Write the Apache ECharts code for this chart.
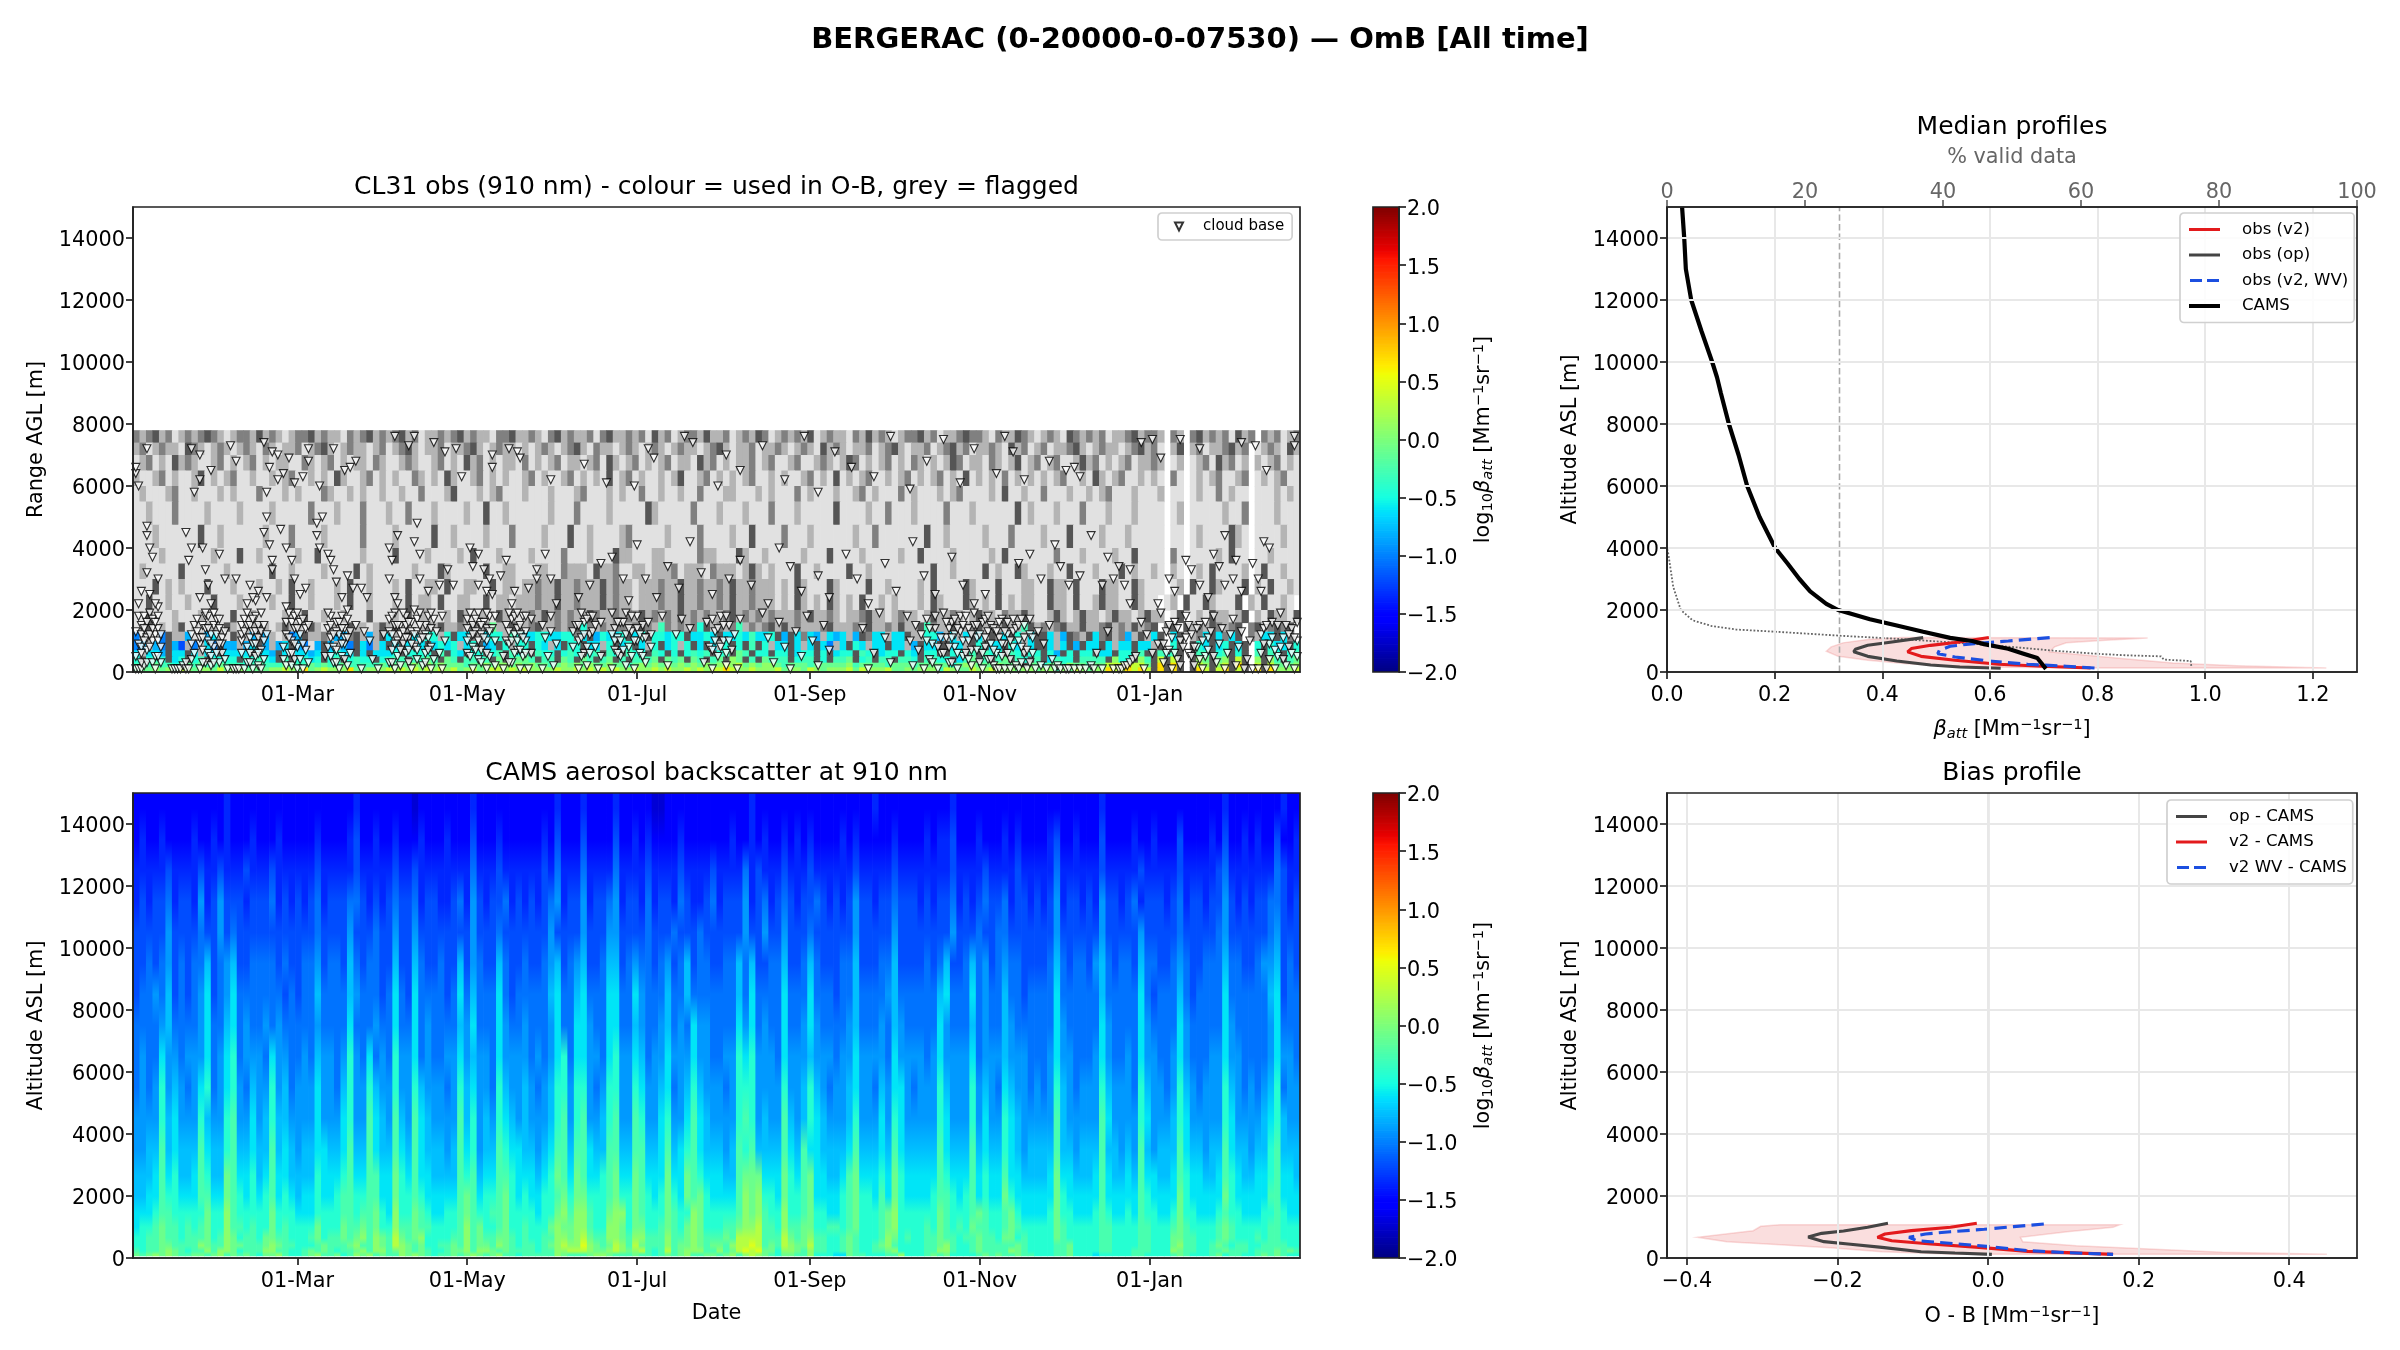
<!DOCTYPE html>
<html><head><meta charset="utf-8">
<script src="https://cdn.jsdelivr.net/npm/echarts@6/dist/echarts.min.js"></script>
<style>html,body{margin:0;padding:0;background:#fff}#c{width:2400px;height:1350px}</style></head>
<body><div id="c"></div>
<script>
// ---------- categories / ticks ----------
const altTicks=[0,2000,4000,6000,8000,10000,12000,14000];
const dateTickDays=[59,120,181,243,304,365];
const dateTickLabels=['01-Mar','01-May','01-Jul','01-Sep','01-Nov','01-Jan'];
const betaTicks=[0,0.2,0.4,0.6,0.8,1.0,1.2];
const biasTicks=[-0.4,-0.2,0,0.2,0.4];
const cbarTicks=[-2,-1.5,-1,-0.5,0,0.5,1,1.5,2];
const validTicks=[0,20,40,60,80,100];
// ---------- CAMS curtain (rows top to bottom, one char per time column) ----------
const camsEdges=[60,150,300,500,800,1200,1700,2300,3000,4000,5000,6000,7000,8000,9000,10000,11000,12000,13000,14000,15000];
const camsCodeValues={0:-1.7,1:-1.5,2:-1.35,3:-1.2,4:-1.05,5:-0.9,6:-0.75,7:-0.6,8:-0.42,9:-0.25,a:-0.08,b:0.08,c:0.28,d:0.48,e:0.6};
const camsRows=[
"11111111111111211111 11111111111111211111 11101111111121111111 11111211121111211111 00111111111111121111 11111111111111211111 11111121111111111111 11111111121111111111 11111111211111111211",
"12112111121121211121 11211111211112311211 21112111211131112111 11121311131111311212 11112111111121121211 21212111121211111211 11212231112111212111 12311211131111211211 13111121311212113112",
"22222322223223222322 23222222322222322222 32232222222242223222 22232422242222422223 22223222232222423222 32223222222322222322 22222232222322223222 22422222232222232222 23222223422222224322",
"23233423325235333233 34232323423334432323 43342332234253233423 23234523352334523324 23324322342333523423 43233432323533233433 32323342323433423323 23523323253323423332 34233233532323344323",
"33333533334335343333 33333333433335333433 53353333333353334333 33335333353335533334 33343334333333533533 53334333333533333533 33333353334334433333 33533333353333353333 34333334533333345333",
"33434534344634563344 44343344534436434433 63364334336354336433 43345634563346634544 34534634433446463344 63346433344633344633 33434633464534544333 34643443564344364433 45433444644334556343",
"34454634345734574444 44434344644446544434 74374444347464447434 44446744674447744754 44644644444446474444 74447444344644445644 44446744474544644344 44744444464444474344 46434444744444467344",
"44445644445744674544 54544444544447444544 74474544446574447544 54445744775447744654 45645475544447574544 74457544445644454654 44447544464544654444 44754444475444475444 47544444754444457444",
"45447554555745784555 47554454655458547454 85574544557565547555 54545784775547855764 55755575544558785554 75556555455755554755 55457555574555655544 45755444575445475544 57544455755444457554",
"45458565457845785465 58564555755468558655 85586555458675548655 65456885885458855875 56745686555458885555 85568654556755465775 45558655585654765545 45865455586555486554 58654555865454568455",
"55558675558655895575 68665555755578559765 96597655559685658765 65556895895568955985 57855797655558985655 96568765556855575875 55558755585755876555 55965555597555587555 68755555875555678655",
"55669676669766896676 69676566776679669766 97697666569785669877 66567996997669966996 67967897666569896666 97697766667966676976 66669766696766876566 66966566696656596566 69766566976656689666",
"66679786679866a97786 79776666877789779977 a8797766669896779987 77678a97a97789a77a97 77a77a98777669aaa777 a879a776679a77787a87 77779877797877977666 67a77666797667697766 79877667987667789776",
"66779887779977a98787 89787677877899889977 a8898777779a97889a87 877889a8aa8889a88a98 78a87a9a877779bab887 a889a777789a88797a87 77789987897877a87777 77a87777797777798777 7a877777a87777799777",
"77789988888a88b98888 8a888777888899899a87 b88a9877889a98899a88 88788ab9bb988abb8a98 88a988ba888889bab988 b889a887789a8889ab88 8888a98889a9889a8777 78a88777898778798877 8a887778988777889877",
"7889a998989a88b99898 8a898888a888a99a9a88 b99a9988889b9a889a88 9888abaabb988bba8aa8 89a98aba88899abbc998 b99aa889989a8889ab88 8898a9898a99889a9888 88a98888899888899888 9a988889a98888899888",
"8899a998999a89ba8998 aa998889a899a9ab9ba9 ca9ab888899b9a99aa98 98899bbabca99bba9bb9 99b99aba999a9cccc999 ca9ab99889a98889ba89 8899a99899a998aa8988 88a98888899888899888 aa998889a98889899888",
"8899aa9999ba99baa999 aba998889a999ab99ba9 cba9a8899a9b9aa9ba98 9989abcbbdba9acb9ca9 99b9aaba9aa9bccdc9a9 cbaac99889a9889ab988 8899ab9889a99999a988 8899a888899888899888 ab99889a989988999988",
"9899aba9899b9bba8999 bb99889a9a9899ab9bb9 aba9a9889aab9bba9a99 99899bbcccbaabcbabc9 89c9abbb99b9acdcdaa8 bba9b99889a98899ab88 8899bb9889a9999ba988 8899a888899888999888 ba998899a9998999a9a9",
"a9ababa99aa9ab9a9a98 aab9889ab99a89bab9a9 9baba9899a9aba9ab998 99999ba999abba999a99 89a9ab99aa9ab9bcba98 aa99b88877a9988899b8 889a9a88889a9a99a998 8899a888788888998888 9a98889a899889a9a988"
];
// ---------- CL31 curtain (rows top to bottom); letters = flagged grey shades, digits = used values ----------
const obsEdges=[0,150,300,500,700,1000,1300,1600,2000,2500,3000,3500,4000,4750,5500,6000,6500,7000,7400,7800];
const obsCodeValues={0:-1.2,1:-1.0,2:-0.8,3:-0.6,4:-0.45,5:-0.3,6:-0.1,7:0.1,8:0.35,9:0.7};
const obsGreys={l:'#e1e1e1',m:'#b4b4b4',d:'#808080',k:'#555555'};
const obsRows=[
"dmdkmdlmdmdkdmlmddmk mdmlmddkmdmmldmdkmdm dkmdlmmdmdkmdmmlddkm mdmldkmdmmdldkmmdmdl kmdlmddmkmmdlmdmkdlm dmdmklmdmmldmkmdmlmd dkmdlmmdkddmldmmkdml mdmlkdmdmdlmmdkmddm. dm.dkmdmdlkmd.dmdlmd",
"mdlmdmmlkdmlmdmlmdml dmlmmdlmdkmlmdmmlmdl mdkmlmmdlmmdkmlmdmml mlmdmlmdkmldmmlmdmlm dmlmdmmlmdkmlmmdlmmd mlmdmlkmdmlmmdlmdkml mmdlmdkmdlmmdmlkmdlm dlmmdkmlmdmmlmdkmdl. mk.mdlmmdkmd.lmdmlkm",
"lmdlmlkmdmllmdlmlmdl mlmmlldmlmdlmlmmldml lmdmllmdlmlkmdlmlmml dlmlmdlmmlmdlkmlmdlm lmdlmmlkmdlmlmmdlmdl lmdllmdmlmkdlmlmdlml dmlmlmkdlmmldmlmklmd lmdllmkmdlmlmdlmmdm. lm.lmdlkmdlm.mlmdlml",
"mllmdlmllmklmlmdllml lmlmdllmlmlkmllmdlml mlldmlmlkmllmdlmlmll mdlmllmdlmlmlklmdlml lmlmkllmdlmlmlmdllml mllmdlmlklmlmdllmlmd lmlmdlmlklmlmldlmlml mlmdllmlkmlmdllmlml. dl.lmlmdllmd.lmlmdll",
"lmlllmdllmlllmlmllld lllmlmllldmllmlmllml lmlldlllmklllmlmdlll mlllmlllmdlllmlmlldl lmllmlldlllmmlllmlml lldlmlllmllmdlmllldl mlllmlmdllllmlkllmll dlllmllmlmdlllmlllm. ll.lmlldlmll.lllmlml",
"llmllldllllmllllmlll lmllllldlllmllldlllm lldlllmllllmllkllmll llllmllldllllmlllllk mllllldlllmlllmllldl llmlllllkllllmlldlll mlllldlllmllllllklml llmllldlllmlllmllll. lm.lllllmlld.lllmlll",
"lllmllllllkllmllllll mllldllllmllllldllll mlllllkllmllllmllldl lllmlllkllmllllmdlll llmlllldllllmllkllll dlllmllllllmlldlllll llkllmlllllmllldllll mlllkllllmlllmlllll. ll.lmllllkml.llllmll",
"llllmlllllllmlllkllm lllllmllkllllllmllll kllllmllllmlklllmlll lmlllldlllmlllkmmlll mmllllldmmlllkmllmll lllmlllkllllmlllllml lkllllmlllllmlklllll lldlllmllllmllkllll. dl.llllmlkll.llmllll",
"lmlllllkllllllmlllll lkllmllllmllllklmlll lllmlllkmlllllkllmml llmmlldmmmlkmmdllmml mmmdlmmmldmmmlmkmlml llkllmllllkllmllllll lllkllmllllklmllkmll lmllklllmlllklmllml. ml.lmlkllllm.lkllmll",
"lllklmlmlllklllmlllm llmlkllmlllmlkllmlll mlkllmmlkllmmllklmml mmdmmkmmdmmmkmdmmlmm mdmmkmmdmmdmkmmdmmml mlkmlllkmllllkllmlll lmlkllllkmlllklllmml lkmmlklllkmmllkmlll. lm.kllkmlllk.mlkllml",
"llkllmllmlllklllmlll lmllkllmlllmlkllmlll mlklmmlkllmmllklmmlm mmdmmkmmdmmmkmdmmlmm mdmmkmmdmmdmkmmdmmml mlkmlmlkmlmlkllmlmll lmlkmlllkmlmlklmlmml lkmmlkllmkmmllkmll. lm.kllkmlllk.mlkllml",
"llklllmlllmllllkllml lllmllkllmllmlllklll mlklmmllmlkmlmmlkmml mdmkmdmdmmkdmmdmdmkm dmdmkmdmdmmdkmdmdmdm mmdmkmmdmlmmdkmmlmdm mlmkmmdmlmkmmldmmkml lmkmlmkmmlmkmmlmkmm. lk.lmlkmmlmk.mlkmmlk",
"lmklmlmklmlmmlkmlmmk mlmkmmlkmlmmlkmmlmk mkmmlmdmkmmdmkmd6mmk dmdkmmdmdk4dmdmddmdk dm5dmdmd4kmdmd5mdmdk mkmdmmmdkmmmdmkmmdmk mmk5dmmkmmdkmdmkmm5k mdmdkmmkmmdkmdmkmdk. dk.kmdmkdmdk.dkmdkdk",
"1mml1kmm2lm23mlkmm2k 2mlm12kmmdm22dkm2mk 3mlk3m44m4k33dm344m54 33443344d3k24334k34k 44344k3343k33435334k 2k3d32m323m2kd33m33k mm442m3m3k3mkd3k4m3k k3m2kdmk3dkmd2mkm3k. 3k.md3k3d3k.dm33k3d",
"12m21k20m1m31k22m23k 2m23k21l2k2m21k31m3k 3k3m3k3434m34k23k4m4 4k43m3k44k33m4k34k3m 4k34m4k3k3m4k4k5k4m3 3k3m3k31m3k43m33k33m 2k33kk33mk4k33k43m3k k3m3k2k33k3m33k33mk. 4k.k43k34k3k.4k433k4",
"3m332k33k3m33k3333k3 32k3m3323k3433k3k333 4k4444k5k43k44k45k54 5k544k454k45k54k544k 54k4k4545k45k65k44k4 4k344k4k344k54k344k4 3k44kk44k5k544k54k44 k42k4k44k33k44k5kk54 5k.k55k45k4k.5k54k45",
"4k454k34k45k4444k445 43k5k4434k45k4544k45 55k5565k65k5545k6k56 65k55k65k65k56k5k555 6k656k65k56k76k5k655 5k455k4k556k45k55k55 4k5544k356k5k56k54k5 k3544k5555k744k75k8k 8k.k76k67k8k.7k75k56",
"55565545656556555456 55565556565565555565 66676767666566767767 67665676767667665676 76767676767878676776 56665666667566665666 56666646776667666k66 46657665668889886k9k 9k.k87k78k9k.8k86667",
"66676768767768677666 67787696787779667778 78787878786786788787 87777877878787877877 87877878788987787778 67768767778687778667 67775876687787776776 77576876779889898k9k 9k.k98k89k8k.9k97778"
];
// ---------- cloud base (day, altitude in hm) ----------
const cbHigh=[5,72,1,64,2,60,1,66,21,72,24,70,28,65,22,58,24,62,35,73,37,68,47,74,50,71,52,70,49,66,48,58,52,62,54,64,56,69,58,61,61,63,63,72,63,68,67,60,72,72,76,65,78,66,80,68,94,76,99,73,101,76,108,74,112,71,116,72,118,63,129,70,129,66,135,72,138,71,139,69,150,62,162,67,170,61,180,60,185,72,187,69,198,76,201,74,210,60,213,70,218,65,226,73,234,62,241,76,246,58,252,71,258,66,266,63,272,76,279,59,285,68,291,75,297,61,302,72,310,64,313,76,316,71,320,62,329,68,335,65,338,66,340,63,362,74,366,75,369,69,376,75,383,72,398,74,403,73,407,65,417,76,417,73];
const cbMid=[5,47,5,44,6,40,7,37,5,32,9,30,6,25,8,22,19,45,21,40,20,36,25,40,26,33,27,28,24,24,28,22,31,38,33,30,37,30,42,28,43,24,48,50,47,45,49,41,50,36,50,33,45,26,48,24,53,46,55,40,57,36,58,30,60,25,62,27,66,48,66,44,68,50,67,40,70,38,71,36,72,33,73,29,75,24,77,31,79,27,82,27,84,24,92,40,93,36,92,30,94,24,95,44,95,22,102,48,101,42,103,38,103,30,106,26,110,28,113,33,115,28,121,40,122,34,124,38,126,33,124,28,127,26,128,30,129,25,132,31,134,36,137,26,136,22,142,27,145,33,148,38,145,30,150,30,152,22,160,24,164,28,168,35,172,37,176,30,178,23,181,41,184,30,188,24,192,34,196,27,200,42,204,32,208,25,214,30,218,36,222,28,228,22,232,40,236,34,240,26,246,31,250,24,256,38,260,30,264,22,270,35,274,26,280,42,284,31,288,25,294,37,298,28,302,22,306,25,318,35,322,38,326,30,331,41,333,34,336,28,340,31,344,44,348,28,350,37,352,30,354,34,356,28,358,22,358,33,368,22,372,30,374,26,378,36,380,33,383,28,386,24,388,38,390,34,392,28,392,44,395,30,398,26,402,35,404,30,405,26,406,42,408,40,396,36];
const cbLow=[1,1,2,1,3,1,4,2,1,5,2,9,1,13,2,18,3,3,3,8,3,12,3,15,4,18,5,3,5,7,5,11,5,16,6,19,7,17,7,3,7,10,8,12,8,5,8,1,9,10,9,14,9,18,10,8,10,3,10,12,14,1,15,1,16,1,17,1,18,2,19,1,19,3,20,1,21,4,21,9,21,12,22,6,22,15,23,13,23,17,24,1,24,9,24,11,25,7,25,15,26,3,26,14,26,18,27,10,27,18,27,6,28,5,28,12,28,2,29,15,29,8,30,12,30,17,31,3,31,17,31,14,32,6,32,11,32,9,33,4,33,13,34,1,36,1,37,1,38,1,39,6,39,10,39,15,39,12,40,1,40,13,40,17,41,8,41,3,41,19,41,15,42,11,42,6,42,15,43,1,43,9,43,13,44,13,44,5,44,18,45,2,45,11,45,15,46,1,46,7,46,13,47,15,47,4,48,12,54,4,54,8,55,2,55,12,55,16,56,6,56,19,57,2,57,10,57,16,58,14,58,4,58,18,59,8,59,1,60,12,60,16,61,1,61,17,62,7,62,14,63,3,63,15,69,5,70,14,70,8,71,18,71,11,71,15,72,3,72,8,73,16,73,7,73,13,74,1,74,12,75,18,75,5,76,9,76,14,76,11,77,2,77,17,78,6,78,13,80,15,82,1,83,13,85,10,86,4,88,1,90,12,92,3,92,17,92,13,93,7,93,12,94,1,94,19,94,15,95,5,95,10,96,15,96,2,96,12,97,9,97,13,98,6,98,18,98,15,99,3,99,11,100,1,100,16,100,13,101,8,102,4,102,13,102,17,103,10,103,19,104,2,105,6,105,15,105,12,106,11,107,1,107,8,107,14,108,17,108,4,109,13,110,6,111,1,111,18,112,10,120,6,120,17,120,14,121,11,122,1,122,8,122,15,123,13,124,4,124,19,124,16,125,7,125,12,126,16,127,1,127,10,127,14,128,5,128,18,129,14,130,2,130,18,130,10,133,1,133,5,134,15,134,10,135,9,135,13,136,3,136,17,137,18,137,12,138,7,138,14,139,1,139,15,140,5,140,18,141,10,141,13,142,1,143,17,143,6,147,15,147,1,148,11,149,5,150,18,150,13,151,2,152,9,158,8,158,13,159,15,160,1,160,10,161,11,162,6,162,16,163,2,164,18,164,12,165,13,166,8,166,15,167,1,168,16,168,5,172,1,172,19,173,7,173,14,174,11,175,5,175,16,176,16,177,2,177,12,178,8,179,13,180,1,181,18,181,10,182,6,183,11,183,15,184,3,185,16,186,8,186,12,190,18,192,2,195,12,197,17,200,14,205,3,206,16,207,8,208,1,209,13,210,5,211,18,212,10,213,2,214,15,215,7,216,12,217,1,218,17,226,19,228,11,230,3,232,16,234,8,236,1,238,13,240,5,242,18,244,10,246,2,248,15,250,7,262,14,264,1,266,6,268,19,270,11,272,3,278,18,279,10,280,2,281,15,282,7,283,12,284,1,285,17,286,4,287,9,288,14,289,1,290,6,291,19,292,11,293,3,293,14,294,16,295,8,295,12,296,1,297,13,297,18,298,5,298,10,299,18,300,10,300,14,301,2,301,7,302,15,302,19,303,7,303,11,304,12,304,3,305,1,305,16,306,17,306,8,307,4,307,13,308,9,308,15,309,14,309,2,310,1,310,6,311,1,311,11,312,5,312,17,313,1,313,9,314,12,314,16,315,1,315,4,316,8,316,13,317,14,317,2,318,1,318,10,319,3,319,17,320,11,320,6,321,1,322,17,322,12,323,6,324,1,325,13,326,2,327,9,328,1,329,15,330,4,331,1,332,2,333,1,335,1,336,1,338,1,340,1,342,1,344,2,345,1,346,6,348,1,350,13,352,1,354,1,355,1,356,2,357,2,358,3,359,4,360,5,362,16,363,1,364,12,366,6,368,9,369,19,370,3,371,13,372,7,373,1,374,16,375,4,376,10,378,18,379,6,380,12,381,2,382,8,383,15,384,1,385,5,386,11,388,18,389,3,390,9,391,14,392,1,393,6,394,12,395,17,396,2,397,8,398,13,399,1,400,4,401,10,402,1,404,1,405,12,406,14,407,1,408,9,409,16,410,1,411,5,412,19,413,11,414,2,415,8,416,14,417,1,418,5,418,10];
const cbDense=[2,22,3,26,3,6,4,10,4,14,6,12,6,8,7,14,8,16,9,21,9,5,25,11,25,3,26,19,27,14,28,9,29,19,29,3,30,6,31,9,41,22,42,3,43,17,44,9,44,23,45,6,46,19,47,10,55,21,56,11,57,6,58,9,59,14,59,19,60,4,61,9,70,19,71,5,72,12,73,3,74,16,75,9,75,14,76,4,77,11,77,20,93,3,93,18,94,9,95,15,96,7,97,19,98,11,99,7,99,16,100,9,101,12,101,20,102,7,103,15,104,11,105,3,106,18,106,7,107,19,120,10,121,5,121,19,122,12,123,7,123,17,124,10,125,15,125,3,126,11,127,6,127,19,128,13,135,3,135,19,136,10,137,6,138,10,138,19,139,7,139,12,140,11,141,6,141,18,160,15,161,5,161,19,162,12,163,8,163,17,164,6,165,18,172,12,173,10,174,6,174,16,175,10,176,7,177,19,178,14,179,5,179,18,180,10,181,14,182,12,183,5,184,11,208,7,208,17,209,10,210,14,211,8,212,15,213,6,213,18,214,10,285,10,286,14,287,3,288,18,289,8,290,11,291,6,292,16,293,8,294,3,294,11,295,17,296,6,296,14,298,15,299,6,300,4,301,12,303,15,305,6,306,11,307,18,308,4,309,7,310,13,311,16,312,9,313,13,314,6,315,10,316,17,318,15,319,8,320,15,321,7,322,3,323,11,370,9,371,6,372,15,373,11,374,6,375,14,376,2,377,8,378,11,379,15,380,5,381,8,382,14,383,4,384,10,385,16,386,7,387,13,388,5,405,6,406,9,407,15,408,4,409,11,410,7,411,15,412,8,413,4,414,15,415,12,416,6,417,11,418,16];
// ---------- median profiles: [value, altitude] ----------
const camsProfile=[[0.028,15000],[0.032,14000],[0.035,13000],[0.045,12000],[0.064,11000],[0.084,10000],[0.093,9500],[0.1,9000],[0.115,8000],[0.133,7000],[0.149,6000],[0.172,5000],[0.201,4000],[0.224,3500],[0.246,3000],[0.266,2600],[0.296,2200],[0.318,2000],[0.377,1700],[0.427,1500],[0.476,1300],[0.526,1100],[0.567,1000],[0.589,900],[0.634,750],[0.661,600],[0.688,450],[0.695,300],[0.704,100]];
const obsV2=[[0.598,1110],[0.544,970],[0.49,860],[0.454,755],[0.447,650],[0.472,505],[0.535,380],[0.616,250],[0.697,185],[0.787,130]];
const obsOp=[[0.476,1110],[0.418,970],[0.373,860],[0.35,733],[0.347,650],[0.373,505],[0.427,355],[0.49,226],[0.544,160],[0.62,120]];
const obsWv=[[0.711,1110],[0.634,1000],[0.571,916],[0.526,830],[0.506,700],[0.503,590],[0.535,485],[0.598,355],[0.67,250],[0.742,185],[0.795,130]];
const obsBand=[[0.436,1110],[0.373,1045],[0.327,940],[0.305,810],[0.296,670],[0.318,505],[0.373,380],[0.445,270],[0.535,195],[0.625,150],[0.76,130],[1.225,130],[1.058,205],[0.94,290],[0.85,430],[0.76,570],[0.711,650],[0.72,810],[0.742,940],[0.815,1025],[0.893,1100]];
const validPct=[[0,15000],[0,4000],[0.2,3800],[0.9,2750],[2,2000],[3.7,1670],[6.5,1480],[10,1370],[15.7,1300],[25.5,1165],[32.6,1080],[38.2,1000],[45.2,895],[50.9,790],[56.5,680],[62.1,590],[66.4,540],[71.6,505],[72,400],[75.9,355],[76,160]];
const validRef=[[25,0],[25,15000]];
// ---------- bias profiles ----------
const biasOp=[[-0.133,1120],[-0.16,990],[-0.192,870],[-0.221,795],[-0.239,677],[-0.218,527],[-0.186,452],[-0.141,344],[-0.089,204],[-0.044,161],[0.005,118]];
const biasV2=[[-0.015,1120],[-0.05,990],[-0.102,882],[-0.137,774],[-0.147,667],[-0.128,559],[-0.076,452],[-0.012,344],[0.053,215],[0.105,172],[0.166,118]];
const biasWv=[[0.074,1097],[0.034,1011],[-0.005,925],[-0.05,849],[-0.083,774],[-0.105,667],[-0.095,559],[-0.044,462],[0.008,355],[0.053,237],[0.105,172],[0.166,118]];
const biasBand=[[-0.276,1075],[-0.302,1021],[-0.312,882],[-0.386,667],[-0.347,527],[-0.276,430],[-0.205,323],[-0.141,204],[-0.044,118],[0.45,118],[0.311,183],[0.214,290],[0.117,398],[0.046,527],[0.043,667],[0.105,849],[0.166,989],[0.175,1075]];
const zeroLine=[[0,0],[0,15000]];

// ---------- layout and helpers ----------
const FONT='"DejaVu Sans"';
const L={x:133,w:1167},C={x:1373,w:26},R={x:1667,w:690},T={y:207,h:465},B={y:793,h:465};
const SP='#222';
const dayMax=419,nCols=180;
const fmtMinus=(v,d)=>(v<0?'\u2212':'')+Math.abs(v).toFixed(d);
function jet(v){const t=Math.min(1,Math.max(0,(v+2)/4));
 const seg=(p)=>{for(let i=1;i<p.length;i++){if(t<=p[i][0]){const a=p[i-1],b=p[i];return a[1]+(b[1]-a[1])*(t-a[0])/(b[0]-a[0]);}}return p[p.length-1][1];};
 const r=seg([[0,0],[0.35,0],[0.66,1],[0.89,1],[1,0.5]]),g=seg([[0,0],[0.125,0],[0.375,1],[0.64,1],[0.91,0],[1,0]]),b=seg([[0,0.5],[0.11,1],[0.34,1],[0.65,0],[1,0]]);
 return 'rgb('+Math.round(r*255)+','+Math.round(g*255)+','+Math.round(b*255)+')';}
const greyKeys=Object.keys(obsGreys);
function cellColor(code){return code>=100?obsGreys[greyKeys[code-100]]:jet(code);}
function cells(rows,edges,map){const out=[],n=rows.length;const cw=dayMax/nCols;
 rows.forEach((raw,ri)=>{const s=raw.replace(/ /g,'');const lo=edges[n-1-ri],hi=edges[n-ri];
  for(let i=0;i<s.length;i++){const ch=s[i];if(ch==='.')continue;const g=greyKeys.indexOf(ch);
   out.push([i*cw,(i+1)*cw,lo,hi,g>=0?100+g:map[ch]]);}});return out;}
function rectItem(params,api){const a=api.coord([api.value(0),api.value(2)]),b=api.coord([api.value(1),api.value(3)]);
 return {type:'rect',shape:{x:a[0],y:b[1],width:b[0]-a[0]+0.7,height:a[1]-b[1]+0.7},style:{fill:cellColor(api.value(4))}};}
// CAMS columns: one tall rect per time step, shaded through that column's typed level values
const camsStrings=camsRows.map(r=>r.replace(/ /g,''));
const camsTop=camsEdges[camsEdges.length-1],camsBot=camsEdges[0];
function camsColumn(i){const stops=[];camsStrings.forEach((s,ri)=>{const k=camsEdges.length-2-ri;const ch=s[i]||s[s.length-1];
  const mid=(camsEdges[k]+camsEdges[k+1])/2;stops.push({offset:(camsTop-mid)/(camsTop-camsBot),color:jet(camsCodeValues[ch])});});
 return stops;}
const camsCols=[];for(let i=0;i<nCols;i++)camsCols.push([i*dayMax/nCols,(i+1)*dayMax/nCols,camsBot,camsTop,i]);
function camsItem(params,api){const a=api.coord([api.value(0),api.value(2)]),b=api.coord([api.value(1),api.value(3)]);
 return {type:'rect',shape:{x:a[0],y:b[1],width:b[0]-a[0]+0.7,height:a[1]-b[1]},style:{fill:new echarts.graphic.LinearGradient(0,0,0,1,camsColumn(api.value(4)))}};}
function bandSeries(pts,xi,yi){return {type:'custom',xAxisIndex:xi,yAxisIndex:yi,z:2,silent:true,data:pts,encode:{x:0,y:1},
 renderItem:(p,api)=>p.dataIndex===0?{type:'polygon',shape:{points:pts.map(q=>api.coord(q))},style:{fill:'rgba(225,60,60,0.17)',stroke:'rgba(225,60,60,0.18)',lineWidth:1.5}}:null};}
function pairs(a){const o=[];for(let i=0;i<a.length;i+=2)o.push([a[i],a[i+1]*100]);return o;}
const line=SP;
const lbl={fontFamily:FONT,fontSize:20.8,color:'#000'};
const richN={n:{fontFamily:FONT,fontSize:20.8,color:'#000'},i:{fontFamily:FONT,fontSize:20.8,fontStyle:'italic',color:'#000'},s:{fontFamily:FONT,fontSize:14.6,fontStyle:'italic',color:'#000',verticalAlign:'bottom',padding:[9,0,0,0]},r:{fontFamily:FONT,fontSize:14.6,color:'#000',verticalAlign:'bottom',padding:[9,0,0,0]},u:{fontFamily:FONT,fontSize:14.6,color:'#000',verticalAlign:'top',padding:[0,0,9,0]}};
function base(pos,gi,min,max,ticks,fmt){const vert=pos==='left'||pos==='right';return {type:'value',gridIndex:gi,position:pos,min,max,z:6,
 axisLine:{show:true,onZero:false,lineStyle:{color:line,width:1.7}},
 axisTick:{show:true,length:7,inside:false,customValues:ticks,lineStyle:{color:line,width:1.7}},
 axisLabel:Object.assign({show:true,margin:vert?8:13,customValues:ticks,formatter:fmt,hideOverlap:false},vert?{verticalAlign:'top',lineHeight:6}:{},lbl),
 splitLine:{show:false},nameTextStyle:Object.assign({rich:richN},lbl)};}
const dateFmt=v=>dateTickLabels[dateTickDays.indexOf(v)]||'';
const intFmt=v=>String(v);
function grid(x,w,y,h){return {left:x,top:y,width:w,height:h,containLabel:false};}
const gl={show:true,lineStyle:{color:'#e8e8e8',width:2}};

const xAxis=[
 base('bottom',0,0,dayMax,dateTickDays,dateFmt),
 Object.assign(base('bottom',1,0,dayMax,dateTickDays,dateFmt),{name:'Date',nameLocation:'middle',nameGap:45}),
 Object.assign(base('bottom',2,0,1,[],intFmt),{show:false}),
 Object.assign(base('bottom',3,0,1,[],intFmt),{show:false}),
 Object.assign(base('bottom',4,0,1.282,betaTicks,v=>v.toFixed(1)),{name:'{i|\u03b2}{s|att}{n| [Mm}{u|\u22121}{n|sr}{u|\u22121}{n|]}',nameLocation:'middle',nameGap:46,splitLine:gl}),
 Object.assign(base('top',4,0,100,validTicks,intFmt),{name:'% valid data',nameLocation:'middle',nameGap:39,nameTextStyle:{fontFamily:FONT,fontSize:20.8,color:'#666'},axisLabel:Object.assign({show:true,margin:4,customValues:validTicks,formatter:intFmt},lbl,{color:'#666'}),axisTick:{show:true,length:7,customValues:validTicks,lineStyle:{color:'#666',width:1.7}}}),
 Object.assign(base('bottom',5,-0.4265,0.49,biasTicks,v=>fmtMinus(v,1)),{name:'O - B {n|[Mm}{u|\u22121}{n|sr}{u|\u22121}{n|]}',nameLocation:'middle',nameGap:47,splitLine:gl})
];
const cbName='{n|log}{r|10}{i|\u03b2}{s|att}{n| [Mm}{u|\u22121}{n|sr}{u|\u22121}{n|]}';
const yAxis=[
 Object.assign(base('left',0,0,15000,altTicks,intFmt),{name:'Range AGL [m]',nameLocation:'middle',nameGap:86,nameRotate:90}),
 Object.assign(base('left',1,0,15000,altTicks,intFmt),{name:'Altitude ASL [m]',nameLocation:'middle',nameGap:86,nameRotate:90}),
 Object.assign(base('right',2,-2,2,cbarTicks,v=>fmtMinus(v,1)),{name:cbName,nameLocation:'middle',nameGap:73,nameRotate:90}),
 Object.assign(base('right',3,-2,2,cbarTicks,v=>fmtMinus(v,1)),{name:cbName,nameLocation:'middle',nameGap:73,nameRotate:90}),
 Object.assign(base('left',4,0,15000,altTicks,intFmt),{name:'Altitude ASL [m]',nameLocation:'middle',nameGap:86,nameRotate:90,splitLine:gl}),
 Object.assign(base('left',5,0,15000,altTicks,intFmt),{name:'Altitude ASL [m]',nameLocation:'middle',nameGap:86,nameRotate:90,splitLine:gl})
];
const cbarLevels=[];for(let i=0;i<200;i++)cbarLevels.push([0,1,-2+i*0.02,-2+(i+1)*0.02,-2+(i+0.5)*0.02]);
function heat(data,xi,yi,item){return {type:'custom',xAxisIndex:xi,yAxisIndex:yi,clip:true,silent:true,z:2,progressive:0,animation:false,data,encode:{x:[0,1],y:[2,3]},renderItem:item||rectItem};}
function ln(name,data,xi,yi,color,width,type){return {name,type:'line',xAxisIndex:xi,yAxisIndex:yi,data,symbol:'none',smooth:false,silent:true,z:4,clip:true,lineStyle:{color,width,type:type||'solid'},itemStyle:{color},animation:false};}
const cloudBase=pairs(cbLow).concat(pairs(cbDense),pairs(cbMid),pairs(cbHigh));
const red='#e31a1c',dk='#444444',blu='#1c4fe0';
const series=[
 heat(cells(obsRows,obsEdges,obsCodeValues),0,0),
 {name:'cloud base',type:'scatter',xAxisIndex:0,yAxisIndex:0,data:cloudBase,symbol:'triangle',symbolRotate:180,symbolSize:8,z:5,silent:true,animation:false,large:false,progressive:0,itemStyle:{color:'#fff',borderColor:'#000',borderWidth:1.1}},
 heat(camsCols,1,1,camsItem),
 heat(cbarLevels,2,2),heat(cbarLevels,3,3),
 bandSeries(obsBand,4,4),
 ln('valid',validPct,5,4,'#666',1.8,'dotted'),
 ln('ref',validRef,5,4,'#aaaaaa',1.6,'dashed'),
 ln('obs (v2)',obsV2,4,4,red,3.1),
 ln('obs (op)',obsOp,4,4,dk,3.1),
 ln('obs (v2, WV)',obsWv,4,4,blu,3.1,'dashed'),
 ln('CAMS',camsProfile,4,4,'#000',4.2),
 bandSeries(biasBand,6,5),
 ln('zero',zeroLine,6,5,'#222',2),
 ln('op - CAMS',biasOp,6,5,dk,3.1),
 ln('v2 - CAMS',biasV2,6,5,red,3.1),
 ln('v2 WV - CAMS',biasWv,6,5,blu,3.1,'dashed')
];
// legend keys: zero-area corner points fix the icon box at 31x14, the filled parts are the line sample
const keyBox='M0 0L0 0M31 14L31 14';
const keySolid='path://'+keyBox+'M0 5.5H31V8.5H0Z';
const keyThick='path://'+keyBox+'M0 5H31V9H0Z';
const keyDash='path://'+keyBox+'M1 5.5H13V8.5H1ZM18 5.5H30V8.5H18Z';
const key=(name,icon)=>({name,icon,itemStyle:{borderWidth:0}});
const legendBase={orient:'vertical',backgroundColor:'rgba(255,255,255,0.85)',borderColor:'#d0d0d0',borderWidth:1.7,borderRadius:4,padding:[8,6,8,9],itemWidth:31,itemHeight:14,itemGap:8.5,textStyle:{fontFamily:FONT,fontSize:16.6,color:'#000',padding:[0,0,0,17]},selectedMode:false,z:20};
const titleS=(text,cx,top,size,weight)=>({text,left:cx,top,padding:0,textAlign:'center',textStyle:{fontFamily:FONT,fontSize:size,fontWeight:weight||'normal',color:'#000'}});
const frame=(x,y,w,h)=>({type:'rect',z:50,silent:true,shape:{x,y,width:w,height:h},style:{fill:'transparent',stroke:SP,lineWidth:1.7}});
const option={
 backgroundColor:'#fff',animation:false,
 title:[titleS('BERGERAC (0-20000-0-07530) \u2014 OmB [All time]',1200,26,29,'bold'),
  titleS('CL31 obs (910 nm) - colour = used in O-B, grey = flagged',L.x+L.w/2,175,25),
  titleS('CAMS aerosol backscatter at 910 nm',L.x+L.w/2,761,25),
  titleS('Median profiles',R.x+R.w/2,115,25),
  titleS('Bias profile',R.x+R.w/2,761,25)],
 grid:[grid(L.x,L.w,T.y,T.h),grid(L.x,L.w,B.y,B.h),grid(C.x,C.w,T.y,T.h),grid(C.x,C.w,B.y,B.h),grid(R.x,R.w,T.y,T.h),grid(R.x,R.w,B.y,B.h)],
 xAxis,yAxis,series,
 legend:[
  Object.assign({},legendBase,{data:[{name:'cloud base',icon:'path://M0 0 L10 0 L5 10 Z'}],left:1158,top:213,itemWidth:8,itemHeight:8,padding:[6,8,6,16],textStyle:{fontFamily:FONT,fontSize:15,color:'#000',padding:[0,0,0,15]}}),
  Object.assign({},legendBase,{data:[key('obs (v2)',keySolid),key('obs (op)',keySolid),key('obs (v2, WV)',keyDash),key('CAMS',keyThick)],left:2180,top:213}),
  Object.assign({},legendBase,{data:[key('op - CAMS',keySolid),key('v2 - CAMS',keySolid),key('v2 WV - CAMS',keyDash)],left:2167,top:800})
 ],
 graphic:{elements:[frame(L.x,T.y,L.w,T.h),frame(L.x,B.y,L.w,B.h),frame(C.x,T.y,C.w,T.h),frame(C.x,B.y,C.w,B.h),frame(R.x,T.y,R.w,T.h),frame(R.x,B.y,R.w,B.h)]}
};
const chart=echarts.init(document.getElementById('c'),null,{renderer:'canvas',width:2400,height:1350});
chart.setOption(option);
</script></body></html>
